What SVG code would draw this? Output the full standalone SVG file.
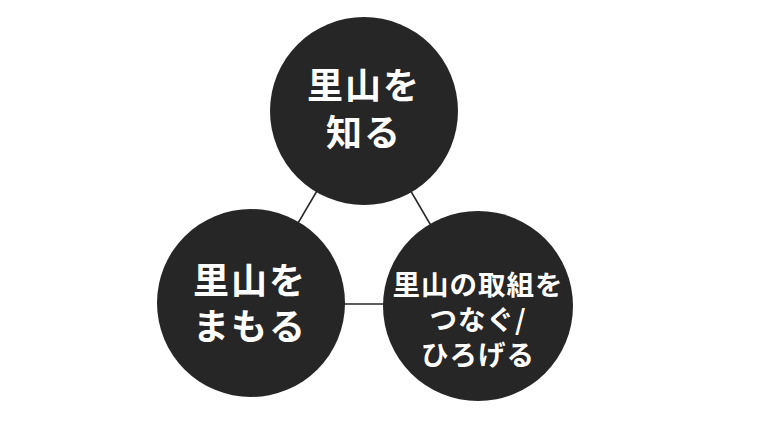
<svg xmlns="http://www.w3.org/2000/svg" width="760" height="428" viewBox="0 0 760 428">
<style>
.n{fill:#262626}
.t{fill:#ffffff;font-family:"Noto Sans CJK JP","Noto Sans CJK SC",sans-serif;font-weight:700;text-anchor:middle}
.l{letter-spacing:2px}
.s{letter-spacing:1px}
.c{stroke:#262626;stroke-width:1.6;fill:none}
</style>
<rect width="760" height="428" fill="#ffffff"/>
<g id="connectors">
<line class="c" x1="364" y1="111" x2="251" y2="303"/>
<line class="c" x1="364" y1="111" x2="478" y2="306"/>
<line class="c" x1="251" y1="304" x2="478" y2="304"/>
</g>
<g id="node-shiru">
<circle class="n" cx="364" cy="111" r="94"/>
<text class="t l" font-size="36" x="364" y="99">里山を</text>
<text class="t l" font-size="36" x="364" y="146">知る</text>
</g>
<g id="node-mamoru">
<circle class="n" cx="251" cy="303" r="94"/>
<text class="t l" font-size="36" x="250" y="294">里山を</text>
<text class="t l" font-size="36" x="250" y="340">まもる</text>
</g>
<g id="node-tsunagu">
<circle class="n" cx="478" cy="306" r="95"/>
<text class="t s" font-size="27.5" x="478" y="294.5">里山の取組を</text>
<text class="t s" font-size="27.5" x="478" y="329.5">つなぐ/</text>
<text class="t s" font-size="27.5" x="478" y="364.5">ひろげる</text>
</g>
</svg>
